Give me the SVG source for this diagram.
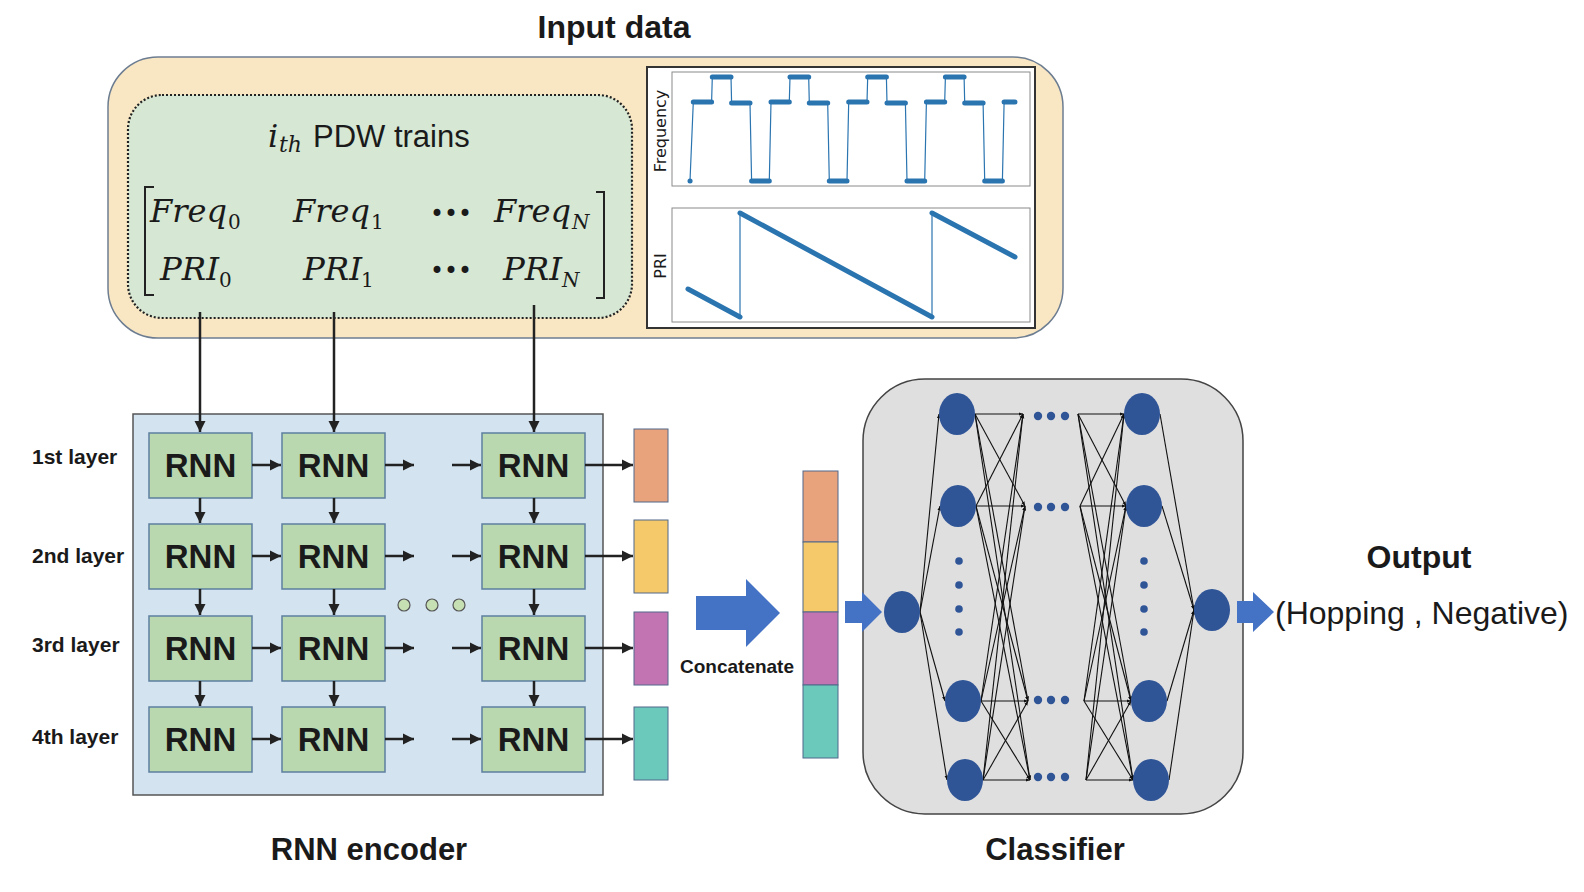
<svg xmlns="http://www.w3.org/2000/svg" width="1584" height="892" viewBox="0 0 1584 892">
<style>
.ttl{font-family:"Liberation Sans",Arial,sans-serif;font-weight:bold;fill:#1a1a1a;text-anchor:middle}
.lyr{font-family:"Liberation Sans",Arial,sans-serif;font-weight:bold;font-size:21px;fill:#1a1a1a}
.rnn rect{fill:#b9d8b0;stroke:#5d7f9e;stroke-width:1.5}
.rnn text{font-family:"Liberation Sans",Arial,sans-serif;font-weight:bold;font-size:33px;fill:#1a1a1a;text-anchor:middle}
.math{font-family:"DejaVu Serif",serif;font-style:italic;font-size:32px;fill:#1a1a1a}
.dots{font-family:"DejaVu Sans",sans-serif;font-size:24px;fill:#1a1a1a}
.sub{font-family:"DejaVu Serif",serif;font-size:20px;fill:#1a1a1a}
.subi{font-family:"DejaVu Serif",serif;font-style:italic;font-size:20px;fill:#1a1a1a}
.arr{stroke:#222;stroke-width:2.5;fill:none;marker-end:url(#ah)}
.nn{stroke:#111;stroke-width:1.1;fill:none;marker-end:url(#sh)}
.node{fill:#2f5597}
.pthin{stroke:#2a74b0;stroke-width:1.2;fill:none}
.pthick{stroke:#2a74b0;stroke-width:5;fill:none;stroke-linecap:round}
.big{fill:#4472c4}
</style>
<defs>
<marker id="ah" viewBox="0 0 10 10" refX="10" refY="5" markerWidth="4.6" markerHeight="4.6" orient="auto"><path d="M0,0 L10,5 L0,10 z" fill="#222"/></marker>
<marker id="sh" viewBox="0 0 10 10" refX="10" refY="5" markerWidth="4" markerHeight="4" orient="auto"><path d="M0,1 L10,5 L0,9 z" fill="#111"/></marker>
</defs>
<rect width="1584" height="892" fill="#ffffff"/>

<g id="input-data">
<text class="ttl" x="614" y="38" font-size="32">Input data</text>
<rect x="108" y="57" width="955" height="281" rx="50" fill="#f9e7c4" stroke="#6d7d91" stroke-width="1.5"/>
</g>

<g id="pdw-trains">
<rect x="128" y="95" width="504" height="223" rx="34" fill="#d6e7d4" stroke="#222" stroke-width="2.2" stroke-dasharray="2 2"/>
<text x="268" y="147" font-family="DejaVu Serif,serif" font-style="italic" font-size="32" fill="#1a1a1a">i</text>
<text x="279" y="152" font-family="DejaVu Serif,serif" font-style="italic" font-size="22" fill="#1a1a1a">th</text>
<text x="313" y="147" font-family="Liberation Sans,Arial,sans-serif" font-size="31" fill="#1a1a1a">PDW trains</text>
<path d="M154,187 H145 V295 H154 M596,192 H604 V298 H596" fill="none" stroke="#222" stroke-width="2"/>
<text class="math" x="150" y="222" textLength="77" lengthAdjust="spacingAndGlyphs">Freq</text><text class="sub" x="228" y="229">0</text>
<text class="math" x="293" y="222" textLength="77" lengthAdjust="spacingAndGlyphs">Freq</text><text class="sub" x="371" y="229">1</text>
<text class="dots" x="430" y="222" textLength="42" lengthAdjust="spacingAndGlyphs">•••</text>
<text class="math" x="494" y="222" textLength="77" lengthAdjust="spacingAndGlyphs">Freq</text><text class="subi" x="572" y="229">N</text>
<text class="math" x="160" y="280" textLength="59" lengthAdjust="spacingAndGlyphs">PRI</text><text class="sub" x="219" y="287">0</text>
<text class="math" x="303" y="280" textLength="59" lengthAdjust="spacingAndGlyphs">PRI</text><text class="sub" x="361" y="287">1</text>
<text class="dots" x="430" y="279" textLength="42" lengthAdjust="spacingAndGlyphs">•••</text>
<text class="math" x="503" y="280" textLength="59" lengthAdjust="spacingAndGlyphs">PRI</text><text class="subi" x="562" y="287">N</text>
</g>

<g id="plots">
<rect x="647" y="67" width="388" height="261" fill="#ffffff" stroke="#333" stroke-width="2"/>
<rect x="672" y="72" width="358" height="114" fill="#ffffff" stroke="#8a8a8a" stroke-width="1"/>
<rect x="672" y="208" width="358" height="114" fill="#ffffff" stroke="#8a8a8a" stroke-width="1"/>
<text x="666" y="131" transform="rotate(-90 666 131)" font-family="DejaVu Sans,sans-serif" font-size="16" fill="#1a1a1a" text-anchor="middle">Frequency</text>
<text x="666" y="266" transform="rotate(-90 666 266)" font-family="DejaVu Sans,sans-serif" font-size="16" fill="#1a1a1a" text-anchor="middle">PRI</text>
<path class="pthin" d="M690,181 L693.3,102 H711.6 L712.3,77 H731 L731.6,103 H750 L751.6,181 H769.3 L771,102 H789.3 L790,77 H808.7 L809.3,103 H827.7 L829.3,181 H847 L848.7,102 H867 L867.7,77 H886.4 L887,103 H905.4 L907,181 H924.7 L926.4,102 H944.7 L945.4,77 H964.1 L964.7,103 H983.1 L984.7,181 H1002.4 L1004.1,102 H1015"/>
<path class="pthick" d="M690,181 h0.1 M693.3,102 H711.6 M712.3,77 H731 M731.6,103 H750 M751.6,181 H769.3 M771,102 H789.3 M790,77 H808.7 M809.3,103 H827.7 M829.3,181 H847 M848.7,102 H867 M867.7,77 H886.4 M887,103 H905.4 M907,181 H924.7 M926.4,102 H944.7 M945.4,77 H964.1 M964.7,103 H983.1 M984.7,181 H1002.4 M1004.1,102 H1015"/>
<path class="pthin" d="M688,289 L740,317 L740,213 L932,317 L932,213 L1015,257"/>
<path class="pthick" d="M688,289 L740,317 M740,213 L932,317 M932,213 L1015,257"/>
</g>

<g id="rnn-encoder">
<rect x="133" y="414" width="470" height="381" fill="#d3e3f0" stroke="#555" stroke-width="1.5"/>
<text class="ttl" x="369" y="860" font-size="31">RNN encoder</text>
<text class="lyr" x="32" y="464">1st layer</text>
<text class="lyr" x="32" y="563">2nd layer</text>
<text class="lyr" x="32" y="652">3rd layer</text>
<text class="lyr" x="32" y="744">4th layer</text>
<g fill="#c6e0b4" stroke="#555" stroke-width="1.2">
<circle cx="404" cy="605" r="6"/><circle cx="432" cy="605" r="6"/><circle cx="459" cy="605" r="6"/>
</g>
</g>

<g id="rnn-cells" class="rnn">
<rect x="149" y="433" width="103" height="65"/><text x="200.5" y="477">RNN</text>
<rect x="282" y="433" width="103" height="65"/><text x="333.5" y="477">RNN</text>
<rect x="482" y="433" width="103" height="65"/><text x="533.5" y="477">RNN</text>
<rect x="149" y="524" width="103" height="65"/><text x="200.5" y="568">RNN</text>
<rect x="282" y="524" width="103" height="65"/><text x="333.5" y="568">RNN</text>
<rect x="482" y="524" width="103" height="65"/><text x="533.5" y="568">RNN</text>
<rect x="149" y="616" width="103" height="65"/><text x="200.5" y="660">RNN</text>
<rect x="282" y="616" width="103" height="65"/><text x="333.5" y="660">RNN</text>
<rect x="482" y="616" width="103" height="65"/><text x="533.5" y="660">RNN</text>
<rect x="149" y="707" width="103" height="65"/><text x="200.5" y="751">RNN</text>
<rect x="282" y="707" width="103" height="65"/><text x="333.5" y="751">RNN</text>
<rect x="482" y="707" width="103" height="65"/><text x="533.5" y="751">RNN</text>
</g>

<g id="layer-outputs" stroke="#50688a" stroke-width="1">
<rect x="634" y="429" width="34" height="73" fill="#e8a27c"/>
<rect x="634" y="520" width="34" height="73" fill="#f5c96a"/>
<rect x="634" y="612" width="34" height="73" fill="#c274b2"/>
<rect x="634" y="707" width="34" height="73" fill="#6bc9bc"/>
</g>

<g id="concatenate">
<path class="big" d="M696,596 H746 V579 L780,613 L746,647 V630 H696 Z"/>
<text x="737" y="673" font-family="Liberation Sans,Arial,sans-serif" font-weight="bold" font-size="19" fill="#1a1a1a" text-anchor="middle">Concatenate</text>
</g>

<g id="concat-vector" stroke="#50688a" stroke-width="1">
<rect x="803" y="471" width="35" height="71" fill="#e8a27c"/>
<rect x="803" y="542" width="35" height="70" fill="#f5c96a"/>
<rect x="803" y="612" width="35" height="73" fill="#c274b2"/>
<rect x="803" y="685" width="35" height="73" fill="#6bc9bc"/>
</g>

<g id="classifier">
<rect x="863" y="379" width="380" height="435" rx="62" fill="#e0dfe0" stroke="#444" stroke-width="1.5"/>
<text class="ttl" x="1055" y="860" font-size="31">Classifier</text>
</g>

<g id="connectors">
<path class="arr" d="M200,312 V432"/>
<path class="arr" d="M334,312 V432"/>
<path class="arr" d="M534,305 V432"/>
<path class="arr" d="M252,465 H281"/><path class="arr" d="M385,465 H414"/><path class="arr" d="M452,465 H481"/><path class="arr" d="M585,465 H633"/>
<path class="arr" d="M252,556 H281"/><path class="arr" d="M385,556 H414"/><path class="arr" d="M452,556 H481"/><path class="arr" d="M585,556 H633"/>
<path class="arr" d="M252,648 H281"/><path class="arr" d="M385,648 H414"/><path class="arr" d="M452,648 H481"/><path class="arr" d="M585,648 H633"/>
<path class="arr" d="M252,739 H281"/><path class="arr" d="M385,739 H414"/><path class="arr" d="M452,739 H481"/><path class="arr" d="M585,739 H633"/>
<path class="arr" d="M200,498 V523"/><path class="arr" d="M334,498 V523"/><path class="arr" d="M534,498 V523"/>
<path class="arr" d="M200,589 V615"/><path class="arr" d="M334,589 V615"/><path class="arr" d="M534,589 V615"/>
<path class="arr" d="M200,681 V706"/><path class="arr" d="M334,681 V706"/><path class="arr" d="M534,681 V706"/>
<path class="big" d="M845,601 H862 V592 L882,612 L862,632 V623 H845 Z"/>
<path class="big" d="M1237,601 H1253 V592 L1274,612 L1253,632 V623 H1237 Z"/>
<g id="nn-edges">
<path class="nn" d="M920,612 L939,414"/><path class="nn" d="M920,612 L940,506"/><path class="nn" d="M920,612 L945,701"/><path class="nn" d="M920,612 L947,780"/>
<path class="nn" d="M975,414 L1023,414"/><path class="nn" d="M975,414 L1025,506"/><path class="nn" d="M975,414 L1028,701"/><path class="nn" d="M975,414 L1030,780"/>
<path class="nn" d="M976,506 L1023,414"/><path class="nn" d="M976,506 L1025,506"/><path class="nn" d="M976,506 L1028,701"/><path class="nn" d="M976,506 L1030,780"/>
<path class="nn" d="M981,701 L1023,414"/><path class="nn" d="M981,701 L1025,506"/><path class="nn" d="M981,701 L1028,701"/><path class="nn" d="M981,701 L1030,780"/>
<path class="nn" d="M983,780 L1023,414"/><path class="nn" d="M983,780 L1025,506"/><path class="nn" d="M983,780 L1028,701"/><path class="nn" d="M983,780 L1030,780"/>
<path class="nn" d="M1078,414 L1124,414"/><path class="nn" d="M1078,414 L1126,506"/><path class="nn" d="M1078,414 L1131,701"/><path class="nn" d="M1078,414 L1133,780"/>
<path class="nn" d="M1080,506 L1124,414"/><path class="nn" d="M1080,506 L1126,506"/><path class="nn" d="M1080,506 L1131,701"/><path class="nn" d="M1080,506 L1133,780"/>
<path class="nn" d="M1084,701 L1124,414"/><path class="nn" d="M1084,701 L1126,506"/><path class="nn" d="M1084,701 L1131,701"/><path class="nn" d="M1084,701 L1133,780"/>
<path class="nn" d="M1086,780 L1124,414"/><path class="nn" d="M1086,780 L1126,506"/><path class="nn" d="M1086,780 L1131,701"/><path class="nn" d="M1086,780 L1133,780"/>
<path class="nn" d="M1160,414 L1194,610"/><path class="nn" d="M1162,506 L1194,610"/><path class="nn" d="M1167,701 L1194,610"/><path class="nn" d="M1169,780 L1194,610"/>
</g>
</g>

<g id="nn-nodes" class="node">
<ellipse cx="902" cy="612" rx="18" ry="21"/>
<ellipse cx="957" cy="414" rx="18" ry="21"/><ellipse cx="958" cy="506" rx="18" ry="21"/><ellipse cx="963" cy="701" rx="18" ry="21"/><ellipse cx="965" cy="780" rx="18" ry="21"/>
<ellipse cx="1142" cy="414" rx="18" ry="21"/><ellipse cx="1144" cy="506" rx="18" ry="21"/><ellipse cx="1149" cy="701" rx="18" ry="21"/><ellipse cx="1151" cy="780" rx="18" ry="21"/>
<ellipse cx="1212" cy="610" rx="18" ry="21"/>
<circle cx="959" cy="561" r="3.8"/><circle cx="959" cy="585" r="3.8"/><circle cx="959" cy="609" r="3.8"/><circle cx="959" cy="632" r="3.8"/>
<circle cx="1144" cy="561" r="3.8"/><circle cx="1144" cy="585" r="3.8"/><circle cx="1144" cy="609" r="3.8"/><circle cx="1144" cy="632" r="3.8"/>
<circle cx="1038" cy="416" r="4.2"/><circle cx="1051" cy="416" r="4.2"/><circle cx="1065" cy="416" r="4.2"/>
<circle cx="1038" cy="507" r="4.2"/><circle cx="1051" cy="507" r="4.2"/><circle cx="1065" cy="507" r="4.2"/>
<circle cx="1038" cy="700" r="4.2"/><circle cx="1051" cy="700" r="4.2"/><circle cx="1065" cy="700" r="4.2"/>
<circle cx="1038" cy="777" r="4.2"/><circle cx="1051" cy="777" r="4.2"/><circle cx="1065" cy="777" r="4.2"/>
</g>

<g id="output">
<text class="ttl" x="1419" y="568" font-size="32">Output</text>
<text x="1275" y="624" font-family="Liberation Sans,Arial,sans-serif" font-size="32" fill="#1a1a1a">(Hopping , Negative)</text>
</g>
</svg>
